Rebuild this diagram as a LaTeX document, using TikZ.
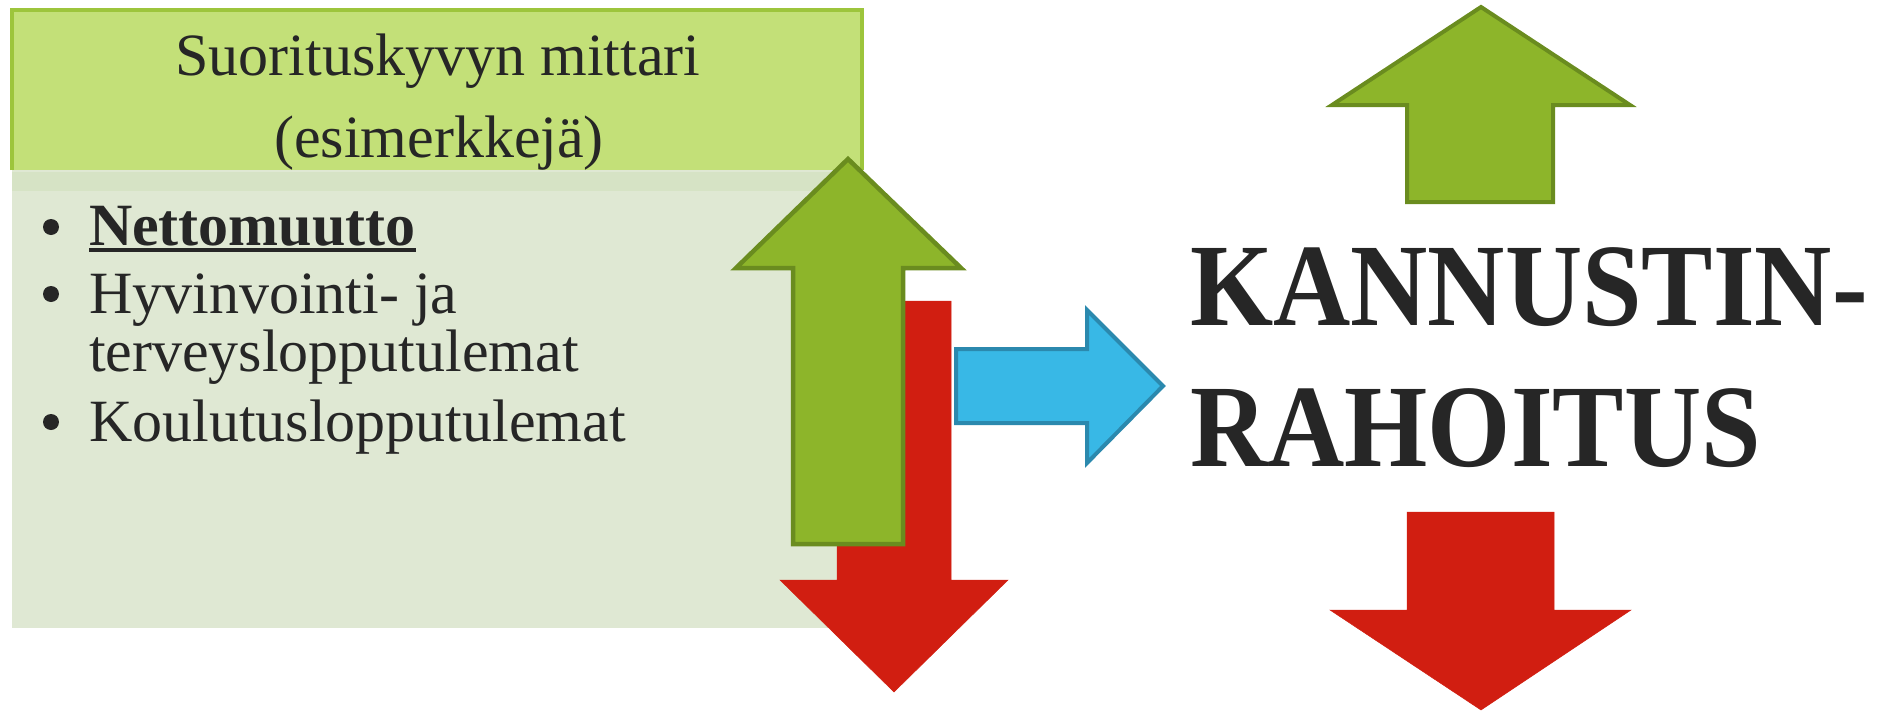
\documentclass[tikz,border=0pt]{standalone}
\usepackage{fontspec}
\setmainfont{Liberation Serif}
\definecolor{hdrfill}{HTML}{C3E078}
\definecolor{hdrline}{HTML}{9DC53C}
\definecolor{bodyfill}{HTML}{DFE8D3}
\definecolor{bandfill}{HTML}{D6E3C5}
\definecolor{grfill}{HTML}{8DB52A}
\definecolor{grline}{HTML}{6A8C1F}
\definecolor{rdfill}{HTML}{D11E11}
\definecolor{blfill}{HTML}{38B8E6}
\definecolor{blline}{HTML}{2B89AE}
\definecolor{txt}{HTML}{262626}
\begin{document}
\begin{tikzpicture}[x=1pt,y=-1pt,
  txtnode/.style={inner sep=0pt,outer sep=0pt,text=txt,font=\fontsize{60}{72}\selectfont},
  bignode/.style={inner sep=0pt,outer sep=0pt,text=txt,font=\fontsize{107}{130}\selectfont\bfseries},
  uparrow/.style={fill=grfill,draw=grline,line width=4.5pt,line join=miter},
  downarrow/.style={fill=rdfill,draw=rdfill,line width=0.5pt},
  rightarrow/.style={fill=blfill,draw=blline,line width=4pt,line join=miter},
  dot/.style={fill=txt}]
\useasboundingbox (0,0) rectangle (1888,712);
% header box
\fill[hdrfill] (12,10) rectangle (862,170);
\draw[hdrline,line width=4pt] (12,170) -- (12,10) -- (862,10) -- (862,170);
% body box
\fill[bodyfill] (12,170) rectangle (837,628);
\fill[bandfill] (12,172) rectangle (837,191);
% header texts
\node[txtnode,anchor=base] (h1) at (438,75) {Suorituskyvyn mittari};
\node[txtnode,anchor=base] (h2) at (439,157) {(esimerkkejä)};
% bullets
\fill[dot] (51,227) circle (8);
\fill[dot] (51,294) circle (8);
\fill[dot] (51,422) circle (8);
\node[txtnode,anchor=base west,font=\fontsize{60}{72}\selectfont\bfseries] (b1) at (89,245) {Nettomuutto};
\draw[txt,line width=3.5pt] (b1.base west) ++(0,5) -- ++(327,0);
\node[txtnode,anchor=base west] (b2) at (89,313) {Hyvinvointi- ja};
\node[txtnode,anchor=base west] (b3) at (89,371) {terveyslopputulemat};
\node[txtnode,anchor=base west] (b4) at (89,441) {Koulutuslopputulemat};
% big red down arrow
\path[downarrow] (837,301) -- (951,301) -- (951,580) -- (1008,580) -- (894,692) -- (780,580) -- (837,580) -- cycle;
% big green up arrow
\path[uparrow] (848,159) -- (961,268) -- (903,268) -- (903,544) -- (793,544) -- (793,268) -- (736,268) -- cycle;
% blue right arrow
\path[rightarrow] (956,349) -- (1087,349) -- (1087,310) -- (1163,386) -- (1087,463) -- (1087,423) -- (956,423) -- cycle;
% right green up arrow
\path[uparrow,line width=4pt] (1481,7) -- (1630,105) -- (1553,105) -- (1553,202) -- (1407,202) -- (1407,105) -- (1332,105) -- cycle;
% right red down arrow
\path[downarrow] (1407,512) -- (1554,512) -- (1554,610) -- (1631,610) -- (1481,710) -- (1330,610) -- (1407,610) -- cycle;
% main text
\node[bignode,anchor=base west] (k1) at (1190,325) {\scalebox{1}[1.1]{KANNUSTIN-}};
\node[bignode,anchor=base west] (k2) at (1190,466) {\scalebox{1}[1.1]{RAHOITUS}};
\end{tikzpicture}
\end{document}
